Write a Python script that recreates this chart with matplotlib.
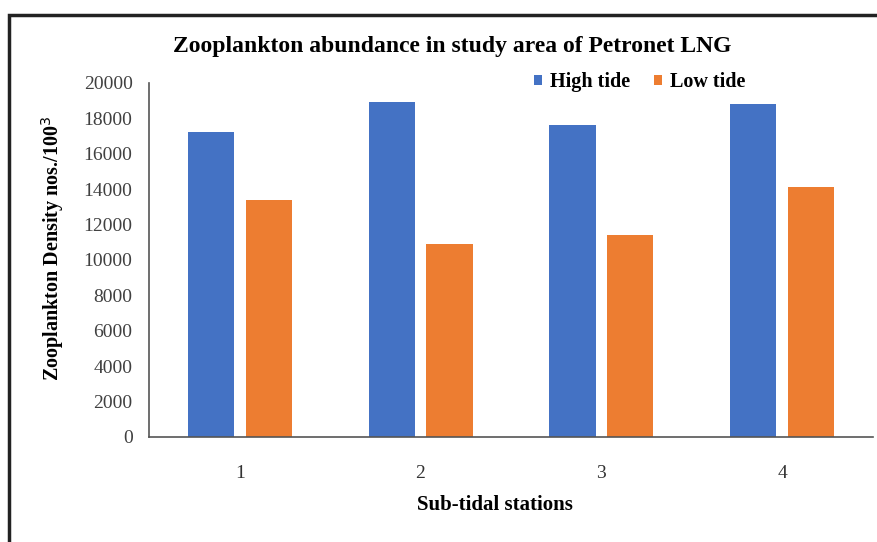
import numpy as np
import matplotlib.pyplot as plt
from matplotlib.patches import Rectangle

plt.rcParams["font.family"] = "Liberation Serif"

stations = ["1", "2", "3", "4"]
high_tide = [17200, 18900, 17600, 18800]
low_tide = [13400, 10900, 11400, 14100]
yticks = list(range(0, 20001, 2000))

fig = plt.figure(figsize=(8.78, 5.42), dpi=100)
ax = fig.add_axes([0.170, 0.194, 0.824, 0.653])

x = np.arange(len(stations))
w = 0.255
ax.bar(x - 0.16, high_tide, w, color="#4472C4", label="High tide")
ax.bar(x + 0.16, low_tide, w, color="#ED7D31", label="Low tide")

ax.set_xlim(-0.5, len(stations) - 0.5)
ax.set_ylim(0, 20000)
ax.set_yticks(yticks)
ax.set_xticks(x)
ax.set_xticklabels(stations)
ax.tick_params(axis="x", length=0, pad=20, labelsize=14, labelcolor="#333333")
ax.tick_params(axis="y", length=0, pad=12, labelsize=14, labelcolor="#404040")
ax.spines["top"].set_visible(False)
ax.spines["right"].set_visible(False)
for s in ("left", "bottom"):
    ax.spines[s].set_color("#555555")
    ax.spines[s].set_linewidth(1.2)

ax.set_xlabel("Sub-tidal stations", fontsize=15, fontweight="bold")
ax.xaxis.set_label_coords(0.478, -0.165)
ax.set_ylabel("Zooplankton Density nos./100$^3$", fontsize=14.5, fontweight="bold")
ax.yaxis.set_label_coords(-0.115, 0.534)
fig.text(0.515, 0.915, "Zooplankton abundance in study area of Petronet LNG",
         ha="center", va="center", fontsize=17, fontweight="bold")

ax.legend(loc="upper center", bbox_to_anchor=(0.678, 1.082), ncol=2, frameon=False,
          handlelength=0.4, handleheight=0.4, columnspacing=1.2, handletextpad=0.4,
          prop={"weight": "bold", "size": 14.5})

# frame around the whole chart
fig.patches.append(Rectangle((0.010, -0.05), 1.1, 1.023, transform=fig.transFigure,
                             fill=False, edgecolor="#222222", linewidth=2.5))

fig.savefig("out.png", dpi=100)
